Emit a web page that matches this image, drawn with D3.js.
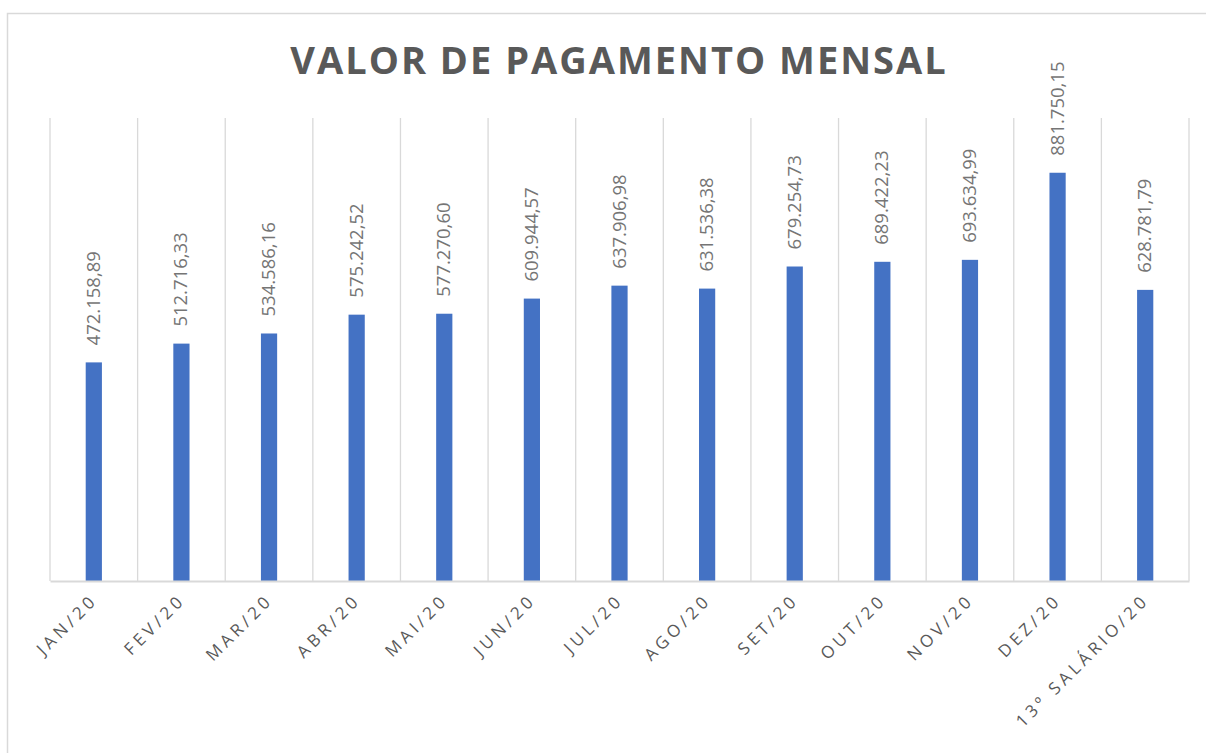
<!DOCTYPE html>
<html>
<head>
<meta charset="utf-8">
<script src="https://cdn.jsdelivr.net/npm/d3@7"></script>
<style>
  html, body { margin: 0; padding: 0; background: #ffffff; }
  svg { display: block; }
</style>
</head>
<body>
<div id="chart"></div>
<script>
const categories = ["JAN/20","FEV/20","MAR/20","ABR/20","MAI/20","JUN/20","JUL/20","AGO/20","SET/20","OUT/20","NOV/20","DEZ/20","13º SALÁRIO/20"];
const values = [472158.89, 512716.33, 534586.16, 575242.52, 577270.60, 609944.57, 637906.98, 631536.38, 679254.73, 689422.23, 693634.99, 881750.15, 628781.79];
const yDomain = [0, 1000000];
const title = "VALOR DE PAGAMENTO MENSAL";

const W = 1206, H = 753;
const margin = {left: 50, right: 17, top: 118, bottom: 172};
const svg = d3.select("#chart").append("svg").attr("width", W).attr("height", H);

// outer chart border
svg.append("path")
  .attr("d", `M7.5,${H+2} L7.5,13.5 L${W+2},13.5`)
  .attr("fill", "none").attr("stroke", "#d9d9d9").attr("stroke-width", 1.5);

const x = d3.scaleBand().domain(categories).range([margin.left, W - margin.right]).paddingInner(0).paddingOuter(0);
const y = d3.scaleLinear().domain(yDomain).range([H - margin.bottom, margin.top]);
const bw = x.bandwidth() * 0.185;

// vertical gridlines at category boundaries
const bounds = categories.map(c => x(c)).concat([x.range()[1]]);
svg.append("g").selectAll("line").data(bounds).join("line")
  .attr("x1", d => d).attr("x2", d => d)
  .attr("y1", y(yDomain[1])).attr("y2", y(0))
  .attr("stroke", "#d9d9d9").attr("stroke-width", 1.3);

// bars
svg.append("g").selectAll("rect").data(values).join("rect")
  .attr("x", (d, i) => x(categories[i]) + x.bandwidth()/2 - bw/2)
  .attr("width", bw)
  .attr("y", d => y(d))
  .attr("height", d => y(0) - y(d))
  .attr("fill", "#4472c4");

// baseline axis
const xAxis = d3.axisBottom(x).tickSize(0).tickSizeOuter(0).tickFormat("");
const ax = svg.append("g").attr("transform", `translate(0,${y(0)})`).call(xAxis);
ax.select(".domain").attr("stroke", "#d9d9d9").attr("stroke-width", 2);

// category labels
svg.append("g").selectAll("text").data(categories).join("text")
  .attr("transform", d => `translate(${x(d) + x.bandwidth()/2 + 5},${y(0) + 20}) rotate(-45)`)
  .attr("text-anchor", "end")
  .attr("font-family", "'Open Sans', sans-serif")
  .attr("font-size", 17)
  .attr("letter-spacing", 4)
  .attr("fill", "#595959")
  .text(d => d);

// data labels
const fmt = v => {
  const parts = v.toFixed(2).split(".");
  return parts[0].replace(/\B(?=(\d{3})+(?!\d))/g, ".") + "," + parts[1];
};
svg.append("g").selectAll("text").data(values).join("text")
  .attr("transform", (d, i) => `translate(${x(categories[i]) + x.bandwidth()/2 + 6},${y(d) - 17}) rotate(-90)`)
  .attr("text-anchor", "start")
  .attr("font-family", "'Open Sans', sans-serif")
  .attr("font-size", 18.5)
  .attr("fill", "#757575")
  .text(d => fmt(d));

// title
svg.append("text")
  .attr("x", 619).attr("y", 74)
  .attr("text-anchor", "middle")
  .attr("font-family", "'Open Sans', sans-serif")
  .attr("font-weight", "bold")
  .attr("font-size", 38)
  .attr("letter-spacing", 2)
  .attr("fill", "#595959")
  .text(title);
</script>
</body>
</html>
